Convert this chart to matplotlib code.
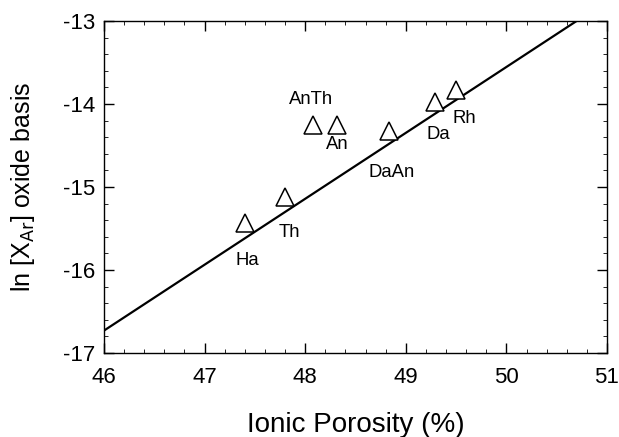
import matplotlib.pyplot as plt
import numpy as np

plt.rcParams['font.family'] = ['Liberation Sans', 'DejaVu Sans']
plt.rcParams['axes.unicode_minus'] = False

# data
names = ['Ha', 'Th', 'AnTh', 'An', 'DaAn', 'Da', 'Rh']
porosity = [47.40, 47.80, 48.08, 48.32, 48.83, 49.29, 49.50]
ln_xar = [-15.43, -15.12, -14.25, -14.25, -14.32, -13.97, -13.83]
label_x = [47.42, 47.84, 48.06, 48.32, 48.86, 49.32, 49.58]
label_y = [-15.88, -15.55, -13.95, -14.49, -14.83, -14.37, -14.17]

# fitted line y = a + b*x
fit_a = -53.254
fit_b = 0.794

fig = plt.figure(figsize=(6.19, 4.37), dpi=100)
ax = fig.add_axes([104/619, 1 - 353/437, 503/619, 332/437])

xp = np.linspace(46, 51, 200)
ax.plot(xp, fit_a + fit_b * xp, color='black', lw=1.6)
ax.plot(porosity, ln_xar, '^', ms=13, mfc='white', mec='black', mew=1.1, ls='none')

for n, lx, ly in zip(names, label_x, label_y):
    ax.text(lx, ly, n, ha='center', va='center', fontsize=13.3)

ax.set_xlim(46, 51)
ax.set_ylim(-17, -13)
ax.set_xticks(np.arange(46, 52, 1))
ax.set_yticks(np.arange(-17, -12, 1))
ax.set_xticks(np.arange(46, 51.01, 0.2), minor=True)
ax.set_yticks(np.arange(-17, -12.99, 0.2), minor=True)
ax.tick_params(which='both', direction='in', top=True, right=True, labelsize=16)
ax.tick_params(which='major', length=7, width=1)
ax.tick_params(which='minor', length=3, width=0.6)
ax.tick_params(axis='x', pad=10)
ax.tick_params(axis='y', pad=6)
for s in ax.spines.values():
    s.set_linewidth(1.0)

ax.set_xlabel('Ionic Porosity (%)', fontsize=20, labelpad=17)
ax.set_ylabel(r'ln [X$_{\mathrm{Ar}}$] oxide basis', fontsize=18, labelpad=19)

fig.savefig('out.png', dpi=100)
